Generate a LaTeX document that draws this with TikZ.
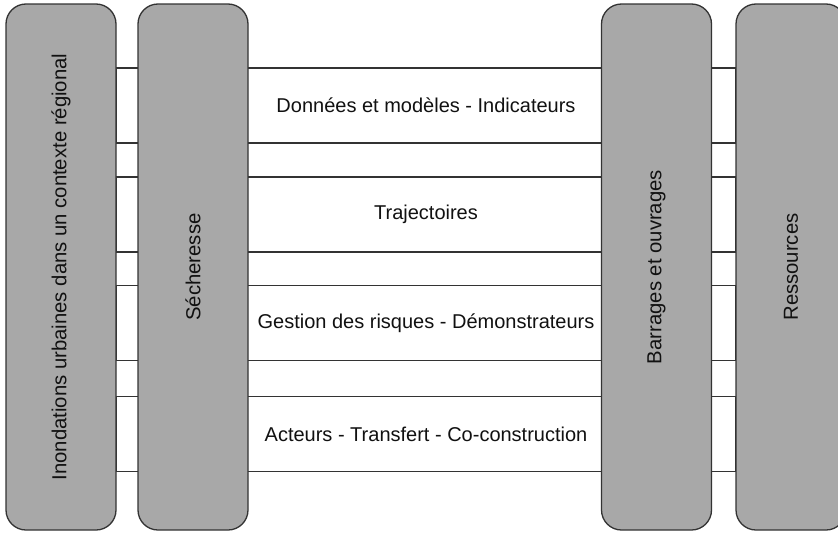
\documentclass[tikz,border=0pt]{standalone}
\usepackage{fontspec}
\setmainfont{Liberation Sans}
\definecolor{colgray}{HTML}{A8A8A8}
\definecolor{linegray}{HTML}{333333}
\definecolor{textgray}{HTML}{111111}
\begin{document}
\begin{tikzpicture}[x=1pt,y=-1pt,
  col/.style={draw=linegray, fill=colgray, line width=1.3pt, rounded corners=20pt,
    minimum width=110pt, minimum height=526pt, inner sep=0pt},
  band/.style={draw=linegray, fill=white, line width=1.3pt, minimum width=620pt,
    minimum height=75pt, inner sep=0pt, text=textgray, font=\fontsize{20}{24}\selectfont},
  lab/.style={rotate=90, text=textgray, font=\fontsize{20.3}{24}\selectfont}]
\useasboundingbox (0,0) rectangle (838,533);
% bands (behind the columns)
\node[band] (b1) at (426,105.5) {Données et modèles - Indicateurs};
\node[band] (b2) at (426,214.5) {Trajectoires};
\node[band] (b3) at (426,323) {Gestion des risques - Démonstrateurs};
\node[band] (b4) at (426,434) {Acteurs - Transfert - Co-construction};
% columns
\node[col] (c1) at (61,267) {};
\node[col] (c2) at (193,267) {};
\node[col] (c3) at (656.5,267) {};
\node[col] (c4) at (791,267) {};
\node[lab] (l1) at (c1.center) {Inondations urbaines dans un contexte régional};
\node[lab] (l2) at (c2.center) {Sécheresse};
\node[lab] (l3) at (c3.center) {Barrages et ouvrages};
\node[lab] (l4) at (c4.center) {Ressources};
\end{tikzpicture}
\end{document}
